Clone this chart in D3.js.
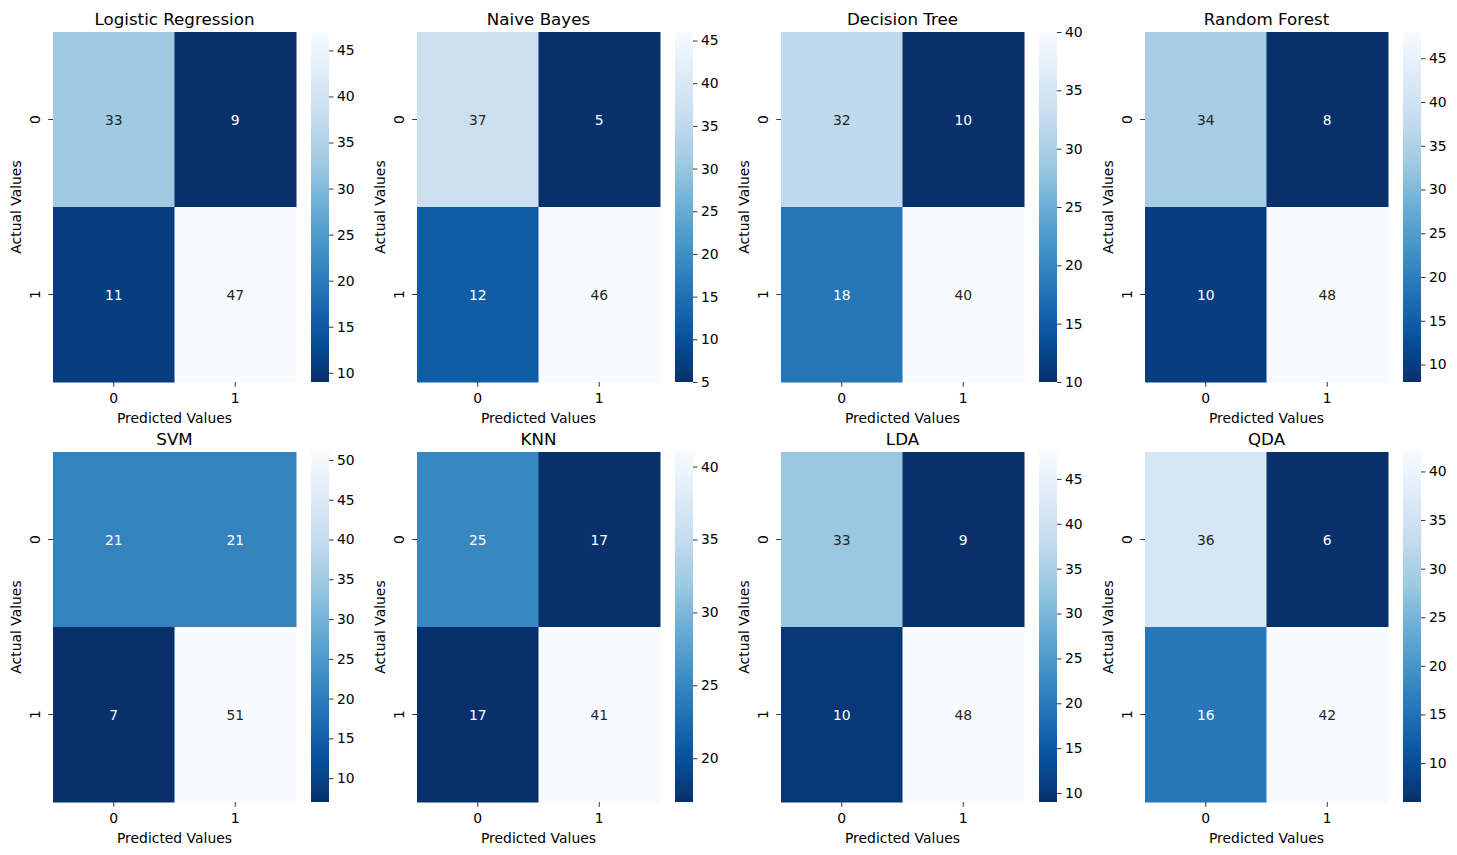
<!DOCTYPE html>
<html>
<head>
<meta charset="utf-8">
<script src="https://cdn.jsdelivr.net/npm/d3@7"></script>
<style>
  html, body { margin: 0; padding: 0; background: #fff; }
  svg text { font-family: "DejaVu Sans", sans-serif; }
</style>
</head>
<body>
<svg id="chart" width="1457" height="855"></svg>
<script>
// ---- data ----
const modelNames = ["Logistic Regression", "Naive Bayes", "Decision Tree", "Random Forest",
                    "SVM", "KNN", "LDA", "QDA"];
const classLabels = ["0", "1"];
const matrices = [
  [[33, 9], [11, 47]],
  [[37, 5], [12, 46]],
  [[32, 10], [18, 40]],
  [[34, 8], [10, 48]],
  [[21, 21], [7, 51]],
  [[25, 17], [17, 41]],
  [[33, 9], [10, 48]],
  [[36, 6], [16, 42]]
];
const colorbarTicks = [
  [10, 15, 20, 25, 30, 35, 40, 45],
  [5, 10, 15, 20, 25, 30, 35, 40, 45],
  [10, 15, 20, 25, 30, 35, 40],
  [10, 15, 20, 25, 30, 35, 40, 45],
  [10, 15, 20, 25, 30, 35, 40, 45, 50],
  [20, 25, 30, 35, 40],
  [10, 15, 20, 25, 30, 35, 40, 45],
  [10, 15, 20, 25, 30, 35, 40]
];
const xLabel = "Predicted Values";
const yLabel = "Actual Values";
const bluesStops = ["#f7fbff", "#deebf7", "#c6dbef", "#9ecae1", "#6baed6",
                    "#4292c6", "#2171b5", "#08519c", "#08306b"];

// ---- layout ----
const colX = [53, 417, 781, 1145];
const rowY = [32, 452];
const hmW = 243, hmH = 350;
const cbOffset = 258, cbW = 18;
const fontSm = 13.9, fontTitle = 16.7;

const svg = d3.select("#chart");
const bluesR = d3.piecewise(d3.interpolateRgb, bluesStops.slice().reverse());

function lum(c) {
  const rgb = d3.rgb(c);
  const f = v => { v /= 255; return v <= 0.03928 ? v / 12.92 : Math.pow((v + 0.055) / 1.055, 2.4); };
  return 0.2126 * f(rgb.r) + 0.7152 * f(rgb.g) + 0.0722 * f(rgb.b);
}

const defs = svg.append("defs");
const grad = defs.append("linearGradient").attr("id", "bluesGrad")
  .attr("x1", 0).attr("y1", 1).attr("x2", 0).attr("y2", 0);
bluesStops.slice().reverse().forEach((c, i) => {
  grad.append("stop").attr("offset", i / (bluesStops.length - 1)).attr("stop-color", c);
});

modelNames.forEach((name, idx) => {
  const m = matrices[idx];
  const flat = m.flat();
  const vmin = d3.min(flat), vmax = d3.max(flat);
  const gx = colX[idx % 4], gy = rowY[Math.floor(idx / 4)];
  const g = svg.append("g").attr("transform", `translate(${gx},${gy})`);

  const x = d3.scaleBand().domain(classLabels).range([0, hmW]);
  const y = d3.scaleBand().domain(classLabels).range([0, hmH]);
  const norm = d3.scaleLinear().domain([vmin, vmax]).range([0, 1]);
  const color = v => bluesR(norm(v));

  const cells = [];
  m.forEach((row, i) => row.forEach((v, j) => cells.push({ r: classLabels[i], c: classLabels[j], v })));

  g.selectAll("rect.cell").data(cells).join("rect")
    .attr("class", "cell")
    .attr("x", d => x(d.c)).attr("y", d => y(d.r))
    .attr("width", x.bandwidth() + 0.5).attr("height", y.bandwidth() + 0.5)
    .attr("fill", d => color(d.v));

  g.selectAll("text.annot").data(cells).join("text")
    .attr("class", "annot")
    .attr("x", d => x(d.c) + x.bandwidth() / 2)
    .attr("y", d => y(d.r) + y.bandwidth() / 2)
    .attr("text-anchor", "middle").attr("dominant-baseline", "central")
    .attr("font-size", fontSm)
    .attr("fill", d => lum(color(d.v)) > 0.408 ? "#262626" : "#ffffff")
    .text(d => d.v);

  // x axis
  const xAxis = g.append("g").attr("transform", `translate(0,${hmH})`)
    .call(d3.axisBottom(x).tickSize(4.8).tickPadding(6.5));
  xAxis.select(".domain").remove();
  xAxis.selectAll("text").attr("font-size", fontSm).attr("fill", "#000").attr("font-family", "DejaVu Sans");
  xAxis.selectAll("line").attr("stroke", "#000").attr("stroke-width", 0.8);

  // y axis
  const yAxis = g.append("g").call(d3.axisLeft(y).tickSize(4.8).tickPadding(3.5));
  yAxis.select(".domain").remove();
  yAxis.selectAll("line").attr("stroke", "#000").attr("stroke-width", 0.8);
  yAxis.selectAll("text").attr("font-size", fontSm).attr("fill", "#000").attr("font-family", "DejaVu Sans")
    .attr("text-anchor", "middle").attr("dy", null).attr("dominant-baseline", "central")
    .attr("transform", "translate(-18.5,0) rotate(-90)")
    .attr("x", 0);

  // labels
  g.append("text").attr("x", hmW / 2).attr("y", hmH + 40.5)
    .attr("text-anchor", "middle").attr("font-size", fontSm).attr("fill", "#000")
    .text(xLabel);
  g.append("text")
    .attr("transform", `translate(${-32},${hmH / 2}) rotate(-90)`)
    .attr("text-anchor", "middle").attr("font-size", fontSm).attr("fill", "#000")
    .text(yLabel);
  g.append("text").attr("x", hmW / 2).attr("y", -7)
    .attr("text-anchor", "middle").attr("font-size", fontTitle).attr("fill", "#000")
    .text(name);

  // colorbar
  const cb = g.append("g").attr("transform", `translate(${cbOffset},0)`);
  cb.append("rect").attr("width", cbW).attr("height", hmH).attr("fill", "url(#bluesGrad)");
  const cy = d3.scaleLinear().domain([vmin, vmax]).range([hmH, 0]);
  const cbAxis = cb.append("g").attr("transform", `translate(${cbW},0)`)
    .call(d3.axisRight(cy).tickValues(colorbarTicks[idx]).tickSize(4.5).tickPadding(3.5));
  cbAxis.select(".domain").remove();
  cbAxis.selectAll("line").attr("stroke", "#000").attr("stroke-width", 0.8);
  cbAxis.selectAll("text").attr("font-size", fontSm).attr("fill", "#000").attr("font-family", "DejaVu Sans");
});
</script>
</body>
</html>
